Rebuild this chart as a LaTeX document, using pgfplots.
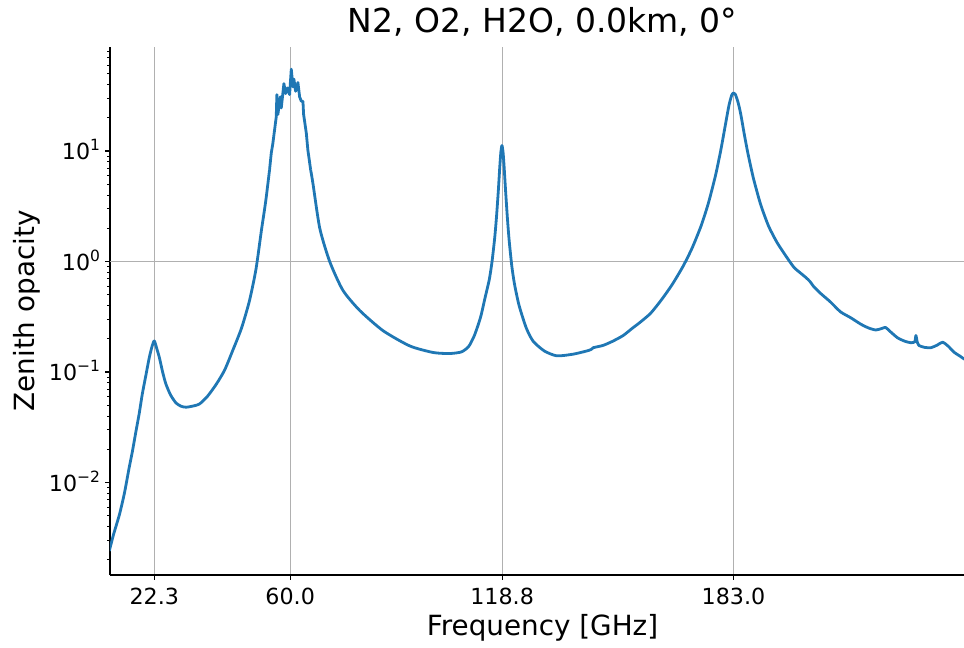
\documentclass[border=0pt]{standalone}
\usepackage{fontspec}
\setmainfont{DejaVu Sans}
\usepackage{pgfplots}
\pgfplotsset{compat=1.18}
\definecolor{mplblue}{HTML}{1F77B4}
\definecolor{gridgray}{HTML}{B0B0B0}
\newcommand{\tp}[1]{10\raisebox{9pt}{\fontsize{15.5}{16}\selectfont #1}}

\begin{document}
\begin{tikzpicture}
\useasboundingbox (0,0) rectangle (964pt,648pt);
\begin{axis}[
    at={(110pt,73pt)}, anchor=south west,
    scale only axis, width=865pt, height=528pt,
    xmin=10, xmax=250,
    ymode=log, ymin=1.455e-3, ymax=87.3,
    axis x line*=bottom, axis y line*=left,
    axis line style={-, line width=1.1pt, black},
    xtick={22.3,60,118.8,183},
    xticklabels={22.3,60.0,118.8,183.0},
    ytick={0.01,0.1,1,10},
    yticklabels={\tp{−2},\tp{−1},\tp{0},\tp{1}},
    minor ytick={0.002,0.003,0.004,0.005,0.006,0.007,0.008,0.009,
                 0.02,0.03,0.04,0.05,0.06,0.07,0.08,0.09,
                 0.2,0.3,0.4,0.5,0.6,0.7,0.8,0.9,
                 2,3,4,5,6,7,8,9,20,30,40,50,60,70,80},
    tick align=outside,
    major tick length=4.9pt, minor tick length=2.8pt,
    major tick style={black, line width=1.1pt},
    minor tick style={black, line width=0.8pt},
    xmajorgrids, grid style={gridgray, line width=1.1pt},
    extra y ticks={1}, extra y tick labels={},
    extra y tick style={grid=major, major tick length=0pt},
    ticklabel style={font=\fontsize{22.2}{26}\selectfont, inner sep=0pt},
    xticklabel style={anchor=base, yshift=-25.1pt},
    yticklabel style={anchor=base east, xshift=-4.9pt, yshift=-9pt},
    title={N2, O2, H2O, 0.0km, 0°},
    title style={at={(axis description cs:0.5,1)}, anchor=base, yshift=8.3pt,
                 font=\fontsize{33}{38}\selectfont},
    xlabel={Frequency [GHz]},
    xlabel style={at={(axis description cs:0.5,0)}, anchor=base, yshift=-60pt,
                  font=\fontsize{27.8}{32}\selectfont},
    ylabel={Zenith opacity},
    ylabel style={at={(axis description cs:-0.096,0.5)}, anchor=center,
                  font=\fontsize{27.8}{32}\selectfont},
]
% water line at 22.3 GHz and rise to the 60 GHz band
\addplot[mplblue, line width=2.8pt, line join=round, smooth, tension=0.4] coordinates {
(9.8,0.0024) (11.0,0.0034) (12.6,0.0051) (14.0,0.0080) (15.35,0.0138)
(16.2,0.019) (17.2,0.029) (18.1,0.042) (18.96,0.063) (20.0,0.095)
(20.9,0.135) (21.7,0.172) (22.3,0.191) (23.0,0.162) (23.7,0.135)
(24.6,0.100) (25.5,0.078) (26.8,0.062) (28.3,0.0525) (29.7,0.049)
(31.1,0.048) (32.8,0.049) (34.8,0.0513) (37.0,0.060) (39.5,0.0776)
(41.8,0.104) (44.0,0.155) (46.5,0.25) (48.7,0.442) (50.5,0.85)
(52.0,1.9) (53.2,3.5) (54.27,6.76)
};
% O2 band, many lines
\addplot[mplblue, line width=2.8pt, line join=round] coordinates {
(54.27,6.76) (54.74,9.55) (55.19,11.75)
(56.13,20.4) (56.30,32.4) (56.58,21.4) (57.25,30.9) (57.52,24.5)
(58.25,40.7) (58.72,33.1) (59.19,37.2) (59.83,32.4) (60.30,55.0)
(60.75,38.0) (61.03,44.7) (61.50,34.7) (62.14,41.7) (62.61,30.9)
(63.08,28.2) (63.53,28.2) (63.72,21.4) (64.47,14.5) (64.9,10.2)
(65.67,6.76)
};
% 118.75 GHz O2 line, 183.31 GHz water line and the far wing
\addplot[mplblue, line width=2.8pt, line join=round, smooth, tension=0.4] coordinates {
(65.67,6.76) (66.3,5.1) (68.2,2.0) (70.95,1.0) (74.6,0.55)
(79.3,0.36) (85.8,0.236) (93.2,0.172) (99.7,0.150) (104.3,0.147)
(107.5,0.152) (109.5,0.170) (111.0,0.21) (112.2,0.27) (113.0,0.33)
(114.0,0.46) (115.25,0.69) (116.0,1.0) (116.75,1.65) (117.25,2.57)
(117.75,4.4) (118.15,7.2) (118.45,9.8) (118.75,11.2) (119.05,9.8)
(119.35,7.2) (119.75,4.4) (120.25,2.5) (120.75,1.55) (121.5,0.9)
(122.25,0.62) (123.5,0.40) (125.5,0.25) (127.4,0.19) (130.5,0.155)
(134.0,0.14) (138.5,0.145) (142.3,0.155) (143.5,0.16) (144.1,0.166)
(146.8,0.174) (149.5,0.19) (152.4,0.214) (155.0,0.25) (157.1,0.282)
(160.0,0.34) (163.0,0.45) (166.0,0.62) (169.0,0.905) (171.5,1.32)
(174.0,2.1) (176.0,3.35) (178.0,6.0) (179.5,10.3) (180.75,17.3)
(181.75,26.0) (182.5,32.0) (183.0,33.5) (183.5,32.6) (184.25,27.6)
(185.0,21.6) (186.0,14.1) (187.0,9.5) (188.5,5.7) (190.5,3.3)
(192.7,2.1) (195.0,1.5) (197.3,1.15) (199.7,0.89) (201.5,0.79)
(203.0,0.72) (204.2,0.66) (205.3,0.59) (207.2,0.513) (209.9,0.43)
(212.7,0.35) (215.5,0.31) (218.3,0.271) (220.5,0.25) (222.5,0.24)
(224.2,0.248) (225.2,0.253) (226.5,0.232) (228.5,0.204) (230.5,0.19)
(232.2,0.184) (233.3,0.188) (233.6,0.214) (234.0,0.185) (234.4,0.174)
(236.0,0.167) (237.8,0.166) (239.5,0.175) (241.0,0.186) (242.5,0.172)
(244.2,0.151) (246.0,0.138) (247.2,0.130) (250.0,0.120)
};
\end{axis}
\end{tikzpicture}
\end{document}
